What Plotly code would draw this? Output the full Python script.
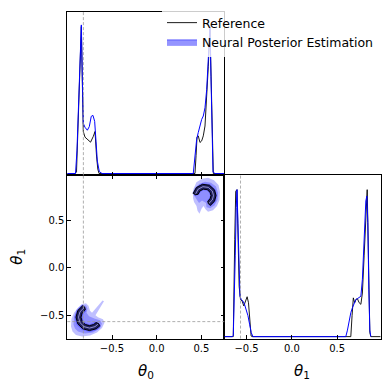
import plotly.graph_objects as go

# ---------------- data ----------------
theta_true = [-0.82, -0.567]
theta0_range = [-1.0, 0.756]
theta1_range = [-0.746, 0.98]
tick_vals = [-0.5, 0.0, 0.5]

# marginal of theta_0 (top-left)
ref0_x = [-1.0, -0.914, -0.897, -0.886, -0.869, -0.852, -0.843, -0.832, -0.821, -0.802, -0.768,
          -0.740, -0.709, -0.690, -0.673, -0.659, -0.645, 0.428, 0.440, 0.451, 0.465, 0.484,
          0.503, 0.521, 0.540, 0.559, 0.577, 0.596, 0.611, 0.622, 0.633, 0.756]
ref0_y = [0, 0, 0.01, 0.2, 0.51, 0.785, 0.91, 0.57, 0.26, 0.225, 0.206,
          0.194, 0.23, 0.26, 0.108, 0.028, 0, 0, 0.11, 0.225, 0.233, 0.192,
          0.202, 0.233, 0.294, 0.458, 0.664, 0.90, 0.5, 0.13, 0, 0]
npe0_x = [-1.0, -0.908, -0.892, -0.869, -0.852, -0.843, -0.832, -0.821, -0.802, -0.776, -0.754,
          -0.732, -0.713, -0.694, -0.679, -0.664, -0.642, -0.612, 0.409, 0.428, 0.447, 0.465,
          0.484, 0.503, 0.521, 0.540, 0.559, 0.577, 0.596, 0.607, 0.618, 0.630, 0.652, 0.756]
npe0_y = [0, 0, 0.14, 0.51, 0.815, 0.92, 0.6, 0.31, 0.286, 0.268, 0.29,
          0.354, 0.36, 0.323, 0.2, 0.077, 0.012, 0, 0, 0.11, 0.212, 0.254,
          0.305, 0.335, 0.356, 0.407, 0.52, 0.705, 0.91, 0.6, 0.194, 0.009, 0, 0]

# marginal of theta_1 (bottom-right)
ref1_x = [-0.746, -0.647, -0.631, -0.620, -0.606, -0.596, -0.582, -0.567, -0.549, -0.531, -0.512,
          -0.494, -0.479, -0.465, -0.450, -0.44, 0.650, 0.664, 0.678, 0.693, 0.707, 0.723,
          0.742, 0.761, 0.778, 0.797, 0.816, 0.831, 0.838, 0.849, 0.860, 0.871, 0.98]
ref1_y = [0, 0, 0.60, 0.90, 0.91, 0.60, 0.31, 0.23, 0.22, 0.19, 0.22,
          0.247, 0.21, 0.086, 0.004, 0, 0, 0.13, 0.24, 0.21, 0.23, 0.235,
          0.21, 0.20, 0.27, 0.50, 0.765, 0.91, 0.705, 0.29, 0.025, 0, 0]
npe1_x = [-0.746, -0.66, -0.647, -0.636, -0.625, -0.614, -0.606, -0.595, -0.584, -0.573, -0.559,
          -0.540, -0.523, -0.504, -0.485, -0.467, -0.449, -0.430, 0.595, 0.613, 0.632, 0.650,
          0.668, 0.687, 0.706, 0.723, 0.742, 0.761, 0.778, 0.797, 0.816, 0.827, 0.838, 0.849,
          0.860, 0.871, 0.98]
npe1_y = [0, 0, 0.005, 0.19, 0.50, 0.80, 0.91, 0.70, 0.39, 0.25, 0.23,
          0.22, 0.20, 0.17, 0.13, 0.077, 0.025, 0, 0, 0.04, 0.10, 0.148,
          0.179, 0.21, 0.23, 0.235, 0.24, 0.25, 0.355, 0.60, 0.84, 0.87, 0.705, 0.29,
          0.04, 0]

# 2D NPE density regions (two modes), light / medium / dark levels
npe_light_a_x = [-0.9586, -0.9530, -0.9251, -0.8803, -0.8356, -0.7908, -0.7629, -0.7461, -0.7237,
                 -0.6063, -0.5895, -0.6846, -0.6566, -0.6007, -0.5839, -0.6119, -0.6678, -0.7461,
                 -0.8356, -0.9027, -0.9418]
npe_light_a_y = [-0.6197, -0.5361, -0.4734, -0.4211, -0.3845, -0.3741, -0.4002, -0.4525, -0.4734,
                 -0.3427, -0.3532, -0.4995, -0.5204, -0.5413, -0.5778, -0.6353, -0.6823, -0.7137,
                 -0.7241, -0.7085, -0.6719]
npe_light_b_x = [0.4060, 0.4116, 0.4441, 0.5067, 0.5738, 0.6409, 0.6913, 0.7081, 0.7025, 0.6745,
                 0.6298, 0.5738, 0.5459, 0.5235, 0.5011, 0.4787, 0.4564, 0.4452, 0.4172]
npe_light_b_y = [0.7388, 0.8328, 0.9060, 0.9425, 0.9530, 0.9269, 0.8746, 0.8015, 0.7179, 0.6552,
                 0.6082, 0.5925, 0.6186, 0.6552, 0.6238, 0.5716, 0.6029, 0.6552, 0.6970]
npe_med_a_x = [-0.9306, -0.9251, -0.8915, -0.8412, -0.7908, -0.7740, -0.7852, -0.7573, -0.6902,
               -0.6342, -0.6119, -0.6398, -0.7125, -0.8020, -0.8803, -0.9139]
npe_med_a_y = [-0.5988, -0.5152, -0.4472, -0.4002, -0.3950, -0.4316, -0.4734, -0.5099, -0.5361,
               -0.5517, -0.5883, -0.6405, -0.6823, -0.6928, -0.6719, -0.6405]
npe_med_b_x = [0.4228, 0.4284, 0.4732, 0.5403, 0.6074, 0.6633, 0.6857, 0.6801, 0.6465, 0.5962,
               0.5570, 0.5515, 0.5067, 0.4732, 0.4508]
npe_med_b_y = [0.7597, 0.8276, 0.8851, 0.9112, 0.9007, 0.8589, 0.7910, 0.7179, 0.6604, 0.6291,
               0.6395, 0.6865, 0.7126, 0.6865, 0.7179]
npe_dark_a_x = [-0.8356, -0.8970, -0.9195, -0.8970, -0.8356, -0.7517, -0.6678, -0.6231, -0.6488,
                -0.6938, -0.7147, -0.7517, -0.7908, -0.8195, -0.8300, -0.8195, -0.7908, -0.7998]
npe_dark_a_y = [-0.3846, -0.4420, -0.5204, -0.5987, -0.6561, -0.6771, -0.6561, -0.6211, -0.5831,
                -0.5674, -0.5837, -0.5935, -0.5837, -0.5570, -0.5204, -0.4838, -0.4571, -0.4148]
npe_dark_b_x = [0.3971, 0.4362, 0.5101, 0.5940, 0.6555, 0.6745, 0.6555, 0.6051, 0.5660, 0.5884,
                0.5962, 0.5884, 0.5604, 0.5235, 0.4911, 0.4743, 0.4228]
npe_dark_b_y = [0.7900, 0.8568, 0.8934, 0.8830, 0.8297, 0.7649, 0.6991, 0.6520, 0.7147, 0.7356,
                0.7649, 0.7931, 0.8171, 0.8213, 0.8056, 0.7753, 0.7566]

# 2D reference posterior contours (crescents)
ref_outer_a_x = [-0.8272, -0.8824, -0.9027, -0.8824, -0.8272, -0.7517, -0.6762, -0.6360, -0.6509,
                 -0.6789, -0.7041, -0.7517, -0.7992, -0.8340, -0.8468, -0.8340, -0.7992, -0.8037,
                 -0.8272]
ref_outer_a_y = [-0.3982, -0.4498, -0.5204, -0.5909, -0.6425, -0.6614, -0.6425, -0.6111, -0.5863,
                 -0.5774, -0.5973, -0.6092, -0.5973, -0.5648, -0.5204, -0.4760, -0.4435, -0.4162,
                 -0.3982]
ref_mid_a_x = [-0.8132, -0.8583, -0.8747, -0.8583, -0.8132, -0.7517, -0.6902, -0.6574]
ref_mid_a_y = [-0.4208, -0.4629, -0.5204, -0.5778, -0.6200, -0.6353, -0.6200, -0.5943]
ref_outer_b_x = [0.4082, 0.4441, 0.5123, 0.5895, 0.6465, 0.6633, 0.6465, 0.5996, 0.5761, 0.5716,
                 0.5973, 0.6074, 0.5973, 0.5660, 0.5224, 0.4832, 0.4631, 0.4340, 0.4082]
ref_outer_b_y = [0.7879, 0.8495, 0.8830, 0.8736, 0.8245, 0.7649, 0.7043, 0.6604, 0.6792, 0.7064,
                 0.7304, 0.7649, 0.7983, 0.8265, 0.8318, 0.8130, 0.7774, 0.7732, 0.7879]
ref_mid_b_x = [0.4362, 0.4631, 0.5168, 0.5772, 0.6219, 0.6353, 0.6219, 0.5850]
ref_mid_b_y = [0.7827, 0.8318, 0.8579, 0.8506, 0.8119, 0.7649, 0.7179, 0.6834]

# ---------------- figure ----------------
OFF = 8            # default page body margin of the html page
W = H = 390 - OFF  # figure size so it ends exactly at the window edge
def fx(p):
    return (p - OFF) / W
def fy(p):
    return 1 - (p - OFF) / H

BLUE = "#0000ff"
FONT = "DejaVu Sans"
fig = go.Figure()

# top-left: theta0 marginal
fig.add_trace(go.Scatter(x=ref0_x, y=ref0_y, mode="lines", line=dict(color="black", width=0.9),
                         name="Reference", xaxis="x", yaxis="y", showlegend=True))
fig.add_trace(go.Scatter(x=npe0_x, y=npe0_y, mode="lines", line=dict(color=BLUE, width=1),
                         xaxis="x", yaxis="y", showlegend=False))

# legend entry for NPE (patch)
fig.add_trace(go.Scatter(x=[None], y=[None], mode="lines", fill="toself",
                         fillcolor="rgba(0,0,255,0.42)", line=dict(color="rgba(0,0,255,0.5)", width=1),
                         name="Neural Posterior Estimation", xaxis="x2", yaxis="y2", showlegend=True))

# 2D NPE fills
for xs, ys, a in [(npe_light_a_x, npe_light_a_y, 0.25), (npe_light_b_x, npe_light_b_y, 0.25),
                  (npe_med_a_x, npe_med_a_y, 0.25), (npe_med_b_x, npe_med_b_y, 0.25),
                  (npe_dark_a_x, npe_dark_a_y, 0.3), (npe_dark_b_x, npe_dark_b_y, 0.3)]:
    fig.add_trace(go.Scatter(x=xs, y=ys, mode="lines", fill="toself",
                             fillcolor=f"rgba(0,0,255,{a})", line=dict(width=0),
                             xaxis="x2", yaxis="y2", showlegend=False, hoverinfo="skip"))
# 2D reference crescents
for xs, ys in [(ref_outer_a_x, ref_outer_a_y), (ref_outer_b_x, ref_outer_b_y)]:
    fig.add_trace(go.Scatter(x=xs, y=ys, mode="lines", fill="toself",
                             fillcolor="rgba(20,20,70,0.85)", line=dict(color="black", width=1),
                             xaxis="x2", yaxis="y2", showlegend=False, hoverinfo="skip"))
for xs, ys in [(ref_mid_a_x, ref_mid_a_y), (ref_mid_b_x, ref_mid_b_y)]:
    fig.add_trace(go.Scatter(x=xs, y=ys, mode="lines", line=dict(color="rgba(215,215,255,0.9)", width=0.7),
                             xaxis="x2", yaxis="y2", showlegend=False, hoverinfo="skip"))

# bottom-right: theta1 marginal
fig.add_trace(go.Scatter(x=ref1_x, y=ref1_y, mode="lines", line=dict(color="black", width=0.9),
                         xaxis="x3", yaxis="y3", showlegend=False))
fig.add_trace(go.Scatter(x=npe1_x, y=npe1_y, mode="lines", line=dict(color=BLUE, width=1),
                         xaxis="x3", yaxis="y3", showlegend=False))

# reference parameter dashed lines
dash = dict(color="#9a9a9a", width=0.8, dash="3px,2px")
shapes = [
    dict(type="line", xref="x", yref="y domain", x0=theta_true[0], x1=theta_true[0], y0=0, y1=1, line=dash),
    dict(type="line", xref="x2", yref="y2 domain", x0=theta_true[0], x1=theta_true[0], y0=0, y1=1, line=dash),
    dict(type="line", xref="x2 domain", yref="y2", x0=0, x1=1, y0=theta_true[1], y1=theta_true[1], line=dash),
    dict(type="line", xref="x3", yref="y3 domain", x0=theta_true[1], x1=theta_true[1], y0=0, y1=1, line=dash),
]

dom_x_left = [fx(67.3), fx(224.3)]
dom_x_right = [fx(224.3), fx(380.7)]
dom_y_top = [fy(174), fy(10)]
dom_y_bot = [fy(338.3), fy(174)]

axis_common = dict(showline=True, linecolor="black", linewidth=0.9, showgrid=False, zeroline=False,
                   tickcolor="black", ticklen=3.5, tickwidth=0.8,
                   tickfont=dict(family=FONT, size=10, color="black"))

fig.update_layout(
    width=W, height=H, margin=dict(l=0, r=0, t=0, b=0),
    paper_bgcolor="white", plot_bgcolor="white",
    font=dict(family=FONT, color="black"),
    shapes=shapes,
    xaxis=dict(domain=dom_x_left, anchor="y", range=theta0_range, mirror=True, ticks="inside",
               tickvals=tick_vals, showticklabels=False, **axis_common),
    yaxis=dict(domain=dom_y_top, anchor="x", range=[-0.01, 1.0], mirror=True, ticks="",
               showticklabels=False, **axis_common),
    xaxis2=dict(domain=dom_x_left, anchor="y2", range=theta0_range, mirror="ticks", ticks="inside",
                tickvals=tick_vals, tickformat=".1f", **axis_common),
    yaxis2=dict(domain=dom_y_bot, anchor="x2", range=theta1_range, mirror="ticks", ticks="inside",
                tickvals=tick_vals, tickformat=".1f", **axis_common),
    xaxis3=dict(domain=dom_x_right, anchor="y3", range=theta1_range, mirror=True, ticks="inside",
                tickvals=tick_vals, tickformat=".1f", **axis_common),
    yaxis3=dict(domain=dom_y_bot, anchor="x3", range=[-0.012, 1.0], mirror=True, ticks="",
                showticklabels=False, **axis_common),
    legend=dict(x=fx(162), y=fy(5.5), xanchor="left", yanchor="top",
                bgcolor="rgba(255,255,255,0.8)", borderwidth=0,
                font=dict(family=FONT, size=12.5, color="black"), tracegroupgap=0),
    annotations=[
        dict(text="<i>θ</i><sub>0</sub>", xref="paper", yref="paper", x=fx(146), y=fy(371),
             xanchor="center", yanchor="middle", showarrow=False, font=dict(family=FONT, size=15)),
        dict(text="<i>θ</i><sub>1</sub>", xref="paper", yref="paper", x=fx(302), y=fy(371),
             xanchor="center", yanchor="middle", showarrow=False, font=dict(family=FONT, size=15)),
        dict(text="<i>θ</i><sub>1</sub>", xref="paper", yref="paper", x=fx(18), y=fy(256),
             xanchor="center", yanchor="middle", showarrow=False, textangle=-90,
             font=dict(family=FONT, size=15)),
    ],
)

fig.write_html("out.html")
